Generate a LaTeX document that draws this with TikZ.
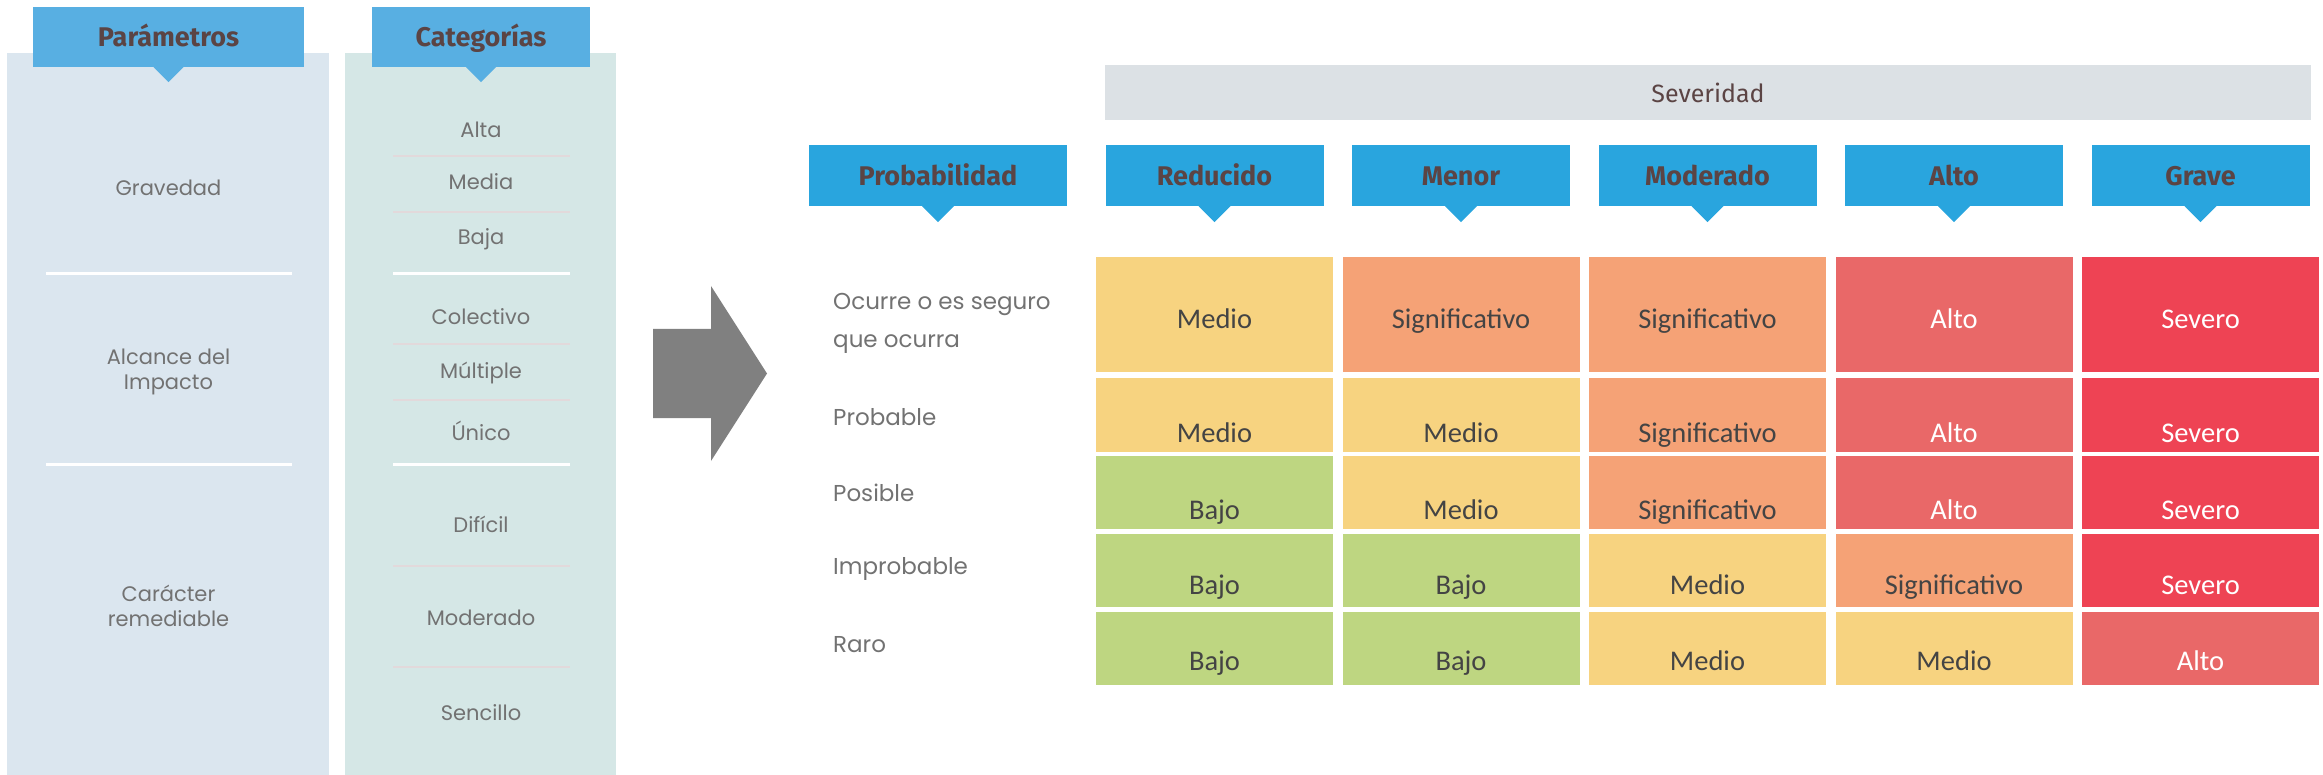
\documentclass[tikz,border=0pt]{standalone}
\usepackage{fontspec}
\usepackage{xcolor}
\usepackage{tikz}
\usetikzlibrary{positioning}
\newfontfamily\headfont{Fira Sans}
\newfontfamily\bodyfont{Poppins}
\newfontfamily\cellfont{Carlito}

\definecolor{panelA}{HTML}{DBE6EF}
\definecolor{panelB}{HTML}{D5E7E6}
\definecolor{capblue}{HTML}{58AFE2}
\definecolor{headblue}{HTML}{29A5DE}
\definecolor{sevgray}{HTML}{DCE1E5}
\definecolor{headtxt}{HTML}{5B4444}
\definecolor{bodytxt}{HTML}{727272}
\definecolor{celltxt}{HTML}{444444}
\definecolor{seplight}{HTML}{E2D9DB}
\definecolor{arrowgray}{HTML}{808080}
\definecolor{cBajo}{HTML}{BED681}
\definecolor{cMedio}{HTML}{F7D380}
\definecolor{cSignificativo}{HTML}{F5A276}
\definecolor{cAlto}{HTML}{E96868}
\definecolor{cSevero}{HTML}{EE4354}
\colorlet{tBajo}{celltxt}
\colorlet{tMedio}{celltxt}
\colorlet{tSignificativo}{celltxt}
\colorlet{tAlto}{white}
\colorlet{tSevero}{white}

\tikzset{
  capbox/.style={fill=capblue,inner sep=0,minimum height=60,text=headtxt,
    text height=22,text depth=2,
    font=\headfont\bfseries\fontsize{27}{32}\selectfont},
  headbox/.style={fill=headblue,inner sep=0,minimum width=218,minimum height=61,text=headtxt,
    text height=22,text depth=2,
    font=\headfont\bfseries\fontsize{27}{32}\selectfont},
  bodytext/.style={align=center,text=bodytxt,inner sep=0,
    font=\bodyfont\fontsize{21}{25}\selectfont},
  rowtext/.style={align=left,anchor=west,text=bodytxt,inner sep=0,
    font=\bodyfont\fontsize{23}{38}\selectfont},
  riskcell/.style={inner sep=0,minimum width=237},
  celltext/.style={inner sep=0,anchor=base,font=\cellfont\fontsize{28.5}{34}\selectfont},
  sepwhite/.style={white,line width=3},
  septhin/.style={seplight,line width=2}
}

\begin{document}
\begin{tikzpicture}[x=1pt,y=-1pt]
	\useasboundingbox (0,0) rectangle (2323,775);
	% left side
	\fill[panelA] (7,53) rectangle (329,775);
	\fill[panelB] (345,53) rectangle (616,775);
	\node[capbox,minimum width=271] (param) at (168.5,37) {Parámetros};
	\node[capbox,minimum width=218] (categ) at (481,37) {Categorías};
	\foreach \n in {param,categ}
		\fill[capblue] ([xshift=-15]\n.south) -- ([xshift=15]\n.south) -- ([yshift=-15]\n.south) -- cycle;
	\node[bodytext] (grav) at (168.5,188) {Gravedad};
	\node[bodytext] (alc) at (168.5,372) {Alcance del\\Impacto};
	\node[bodytext] (car) at (168.5,606) {Carácter\\remediable};
	\foreach \y in {274,464} {
		\draw[sepwhite] (46,\y) -- (292,\y);
		\draw[sepwhite] (393,\y) -- (570,\y);
	}
	\foreach \y in {156,212,344,400,566,667}
		\draw[septhin] (393,\y) -- (570,\y);
	\foreach \t/\y [count=\k] in {Alta/130,Media/182,Baja/239,Colectivo/317,Múltiple/373,Único/431,Difícil/524,Moderado/618,Sencillo/713}
		\node[bodytext] (cat\k) at (481,\y) {\t};
	% arrow
	\fill[arrowgray] (653,329) -- (711,329) -- (711,286) -- (767,373.5) -- (711,461) -- (711,418) -- (653,418) -- cycle;
	% matrix
	\node[fill=sevgray,inner sep=0,minimum width=1206,minimum height=55,text=headtxt,
		font=\headfont\fontsize{25}{30}\selectfont] (sev) at (1708,92.5) {Severidad};
	\node[headbox,minimum width=258] (hProb) at (938,175.5) {Probabilidad};
	\foreach \t [count=\j] in {Reducido,Menor,Moderado,Alto,Grave}
		\node[headbox] (h\j) at ({1214.5+246.5*(\j-1)},175.5) {\t};
	\foreach \n in {hProb,h1,h2,h3,h4,h5}
		\fill[headblue] ([xshift=-16]\n.south) -- ([xshift=16]\n.south) -- ([yshift=-16]\n.south) -- cycle;
	\node[rowtext] (r1) at (833,323) {Ocurre o es seguro\\que ocurra};
	\foreach \t/\y [count=\i from 2] in {Probable/417,Posible/493,Improbable/569,Raro/645}
		\node[rowtext] (r\i) at (833,\y) {\t};
	\foreach \yc/\h/\yb/\row [count=\i] in {
		314.5/115/329/{Medio,Significativo,Significativo,Alto,Severo},
		415/74/442/{Medio,Medio,Significativo,Alto,Severo},
		492.5/73/519/{Bajo,Medio,Significativo,Alto,Severo},
		570.5/73/594/{Bajo,Bajo,Medio,Significativo,Severo},
		648.5/73/670/{Bajo,Bajo,Medio,Medio,Alto}}
		\foreach \v [count=\j] in \row {
			\node[riskcell,fill=c\v,minimum height=\h] (c\i\j) at ({1214.5+246.5*(\j-1)},\yc) {};
			\node[celltext,text=t\v] (t\i\j) at ({1214.5+246.5*(\j-1)},\yb) {\v};
		}
\end{tikzpicture}
\end{document}
